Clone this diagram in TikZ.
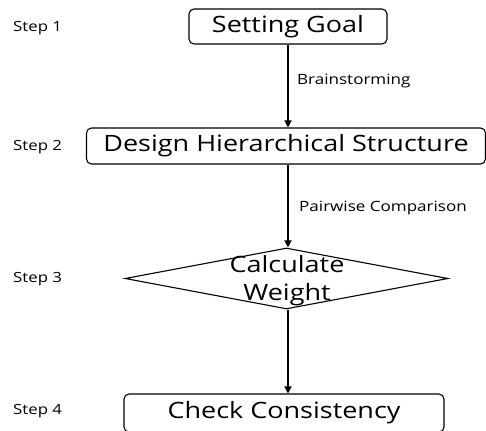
\documentclass[tikz,border=0pt]{standalone}
\usepackage{fontspec}
\setmainfont[FakeStretch=1.2]{Open Sans}
\usetikzlibrary{arrows.meta,shapes.geometric}
\begin{document}
\begin{tikzpicture}[x=1pt,y=1pt,
  stepbox/.style={draw, line width=1.1pt, rounded corners=5pt, inner sep=0pt, font=\fontsize{22.5}{26}\selectfont},
  steplabel/.style={anchor=west, inner sep=0pt, font=\fontsize{14}{16}\selectfont},
  edgelabel/.style={anchor=west, inner sep=0pt, font=\fontsize{14.2}{16}\selectfont},
  flow/.style={line width=1.5pt, -{Triangle[length=7pt,width=7pt]}}]
\useasboundingbox (0,0) rectangle (486,-430);
\clip (0,0) rectangle (486,-430);
% process boxes
\node[stepbox, minimum width=198pt, minimum height=35pt] (goal) at (288,-26.5) {Setting Goal};
\node[stepbox, minimum width=399pt, minimum height=36pt] (struct) at (286,-146) {Design Hierarchical Structure};
\node[diamond, draw, line width=1.1pt, minimum width=323pt, minimum height=61pt, inner sep=0pt] (weight) at (286.5,-278.5) {};
\node[align=center, inner sep=0pt, font=\fontsize{22.5}{28}\selectfont] (wtext) at (287,-281) {Calculate\\Weight};
\node[stepbox, minimum width=320pt, minimum height=38pt] (check) at (284,-413) {Check Consistency};
% step labels
\node[steplabel] (s1) at (13,-28) {Step 1};
\node[steplabel] (s2) at (13,-147) {Step 2};
\node[steplabel] (s3) at (13,-279) {Step 3};
\node[steplabel] (s4) at (13,-411) {Step 4};
% connectors
\draw[flow] (goal.south -| 288,0) -- (struct.north -| 288,0);
\draw[flow] (struct.south -| 288,0) -- (weight.north -| 288,0);
\draw[flow] (weight.south -| 288,0) -- (check.north -| 288,0);
% connector labels
\node[edgelabel] (l1) at (297,-81) {Brainstorming};
\node[edgelabel] (l2) at (299,-208) {Pairwise Comparison};
\end{tikzpicture}
\end{document}
